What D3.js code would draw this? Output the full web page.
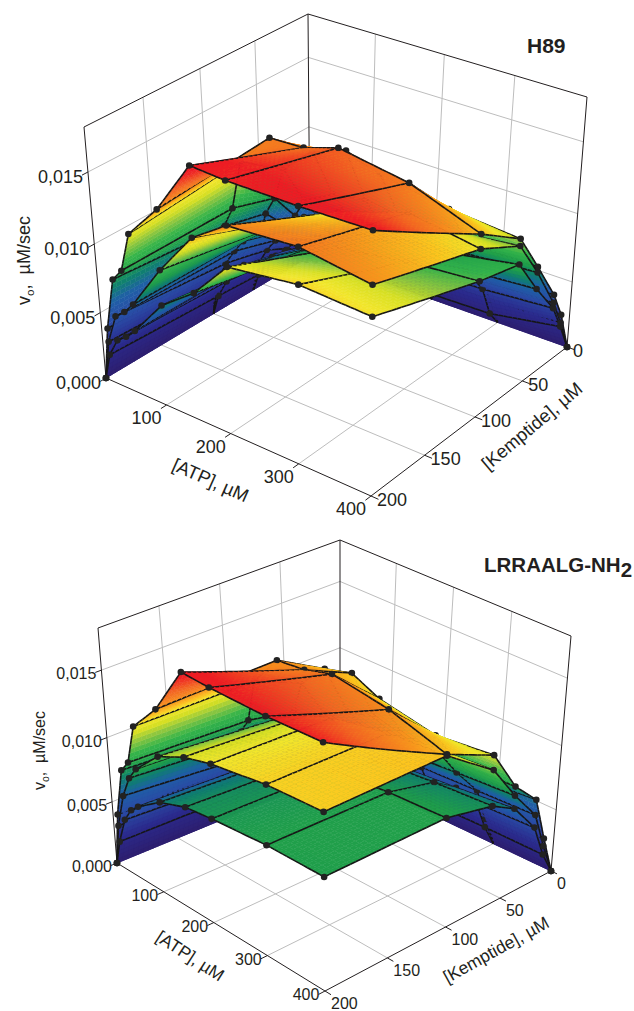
<!DOCTYPE html>
<html>
<head>
<meta charset="utf-8">
<script src="https://cdn.jsdelivr.net/npm/d3@7"></script>
<style>
html, body { margin: 0; padding: 0; background: #fff; }
text { font-family: "Liberation Sans", Arial, sans-serif; fill: #231f20; }
</style>
</head>
<body>
<svg id="chart" width="634" height="1011"></svg>
<script>
// grid of the measurements, rows below run along these two lists
const atpLevels = [400, 300, 200, 150, 100, 55, 40, 25, 10, 0];
const kemptideLevels = [200, 100, 60, 40, 20, 10, 0];

const atpTicks = [100, 200, 300, 400];
const kemptideTicks = [0, 50, 100, 150, 200];
const rateTicks = [0, 0.005, 0.010, 0.015];
const rateMax = 0.018;

// H89 panel, v0 in uM/sec, one row per kemptide level
const h89Low = [
    [.01213, .01245, .01188, .0092, .0074, .00468, .00396, .0034, .0020, 0],
    [.0098, .0094, .0086, .0076, .0062, .0048, .0040, .0030, .0016, 0],
    [.0091, .0082, .0074, .0064, .0052, .0040, .0034, .0026, .0014, 0],
    [.0064, .0060, .0054, .0048, .0040, .0032, .0026, .0020, .0011, 0],
    [.0040, .0036, .0034, .0030, .0026, .0020, .0017, .0012, .0007, 0],
    [.0021, .0012, .0011, .0010, .0009, .0008, .0007, .0005, .0003, 0],
    [0, 0, 0, 0, 0, 0, 0, 0, 0, 0]
];
const h89Mid = [
    [.01415, .0149, .01464, .0130, .0099, .00664, .0058, .0052, .0030, 0],
    [.0120, .0128, .0112, .0100, .0084, .0066, .0056, .0044, .0026, 0],
    [.0104, .0098, .0090, .0082, .0070, .0056, .0046, .0036, .0022, 0],
    [.0076, .0072, .0066, .0060, .0052, .0042, .0036, .0028, .0016, 0],
    [.0044, .0042, .0040, .0036, .0032, .0028, .0024, .0018, .0010, 0],
    [.0024, .0023, .0022, .0020, .0018, .0016, .0014, .0010, .0006, 0],
    [0, 0, 0, 0, 0, 0, 0, 0, 0, 0]
];
const h89High = [
    [.0175, .01746, .01755, .01775, .01408, .01165, .0088, .0079, .0040, 0],
    [.0130, .0148, .0156, .01485, .01476, .0124, .0088, .0072, .0040, 0],
    [.0109, .0113, .0122, .0130, .0122, .0102, .0078, .0064, .0036, 0],
    [.0080, .0080, .0083, .0086, .0082, .0070, .0056, .0046, .0026, 0],
    [.0050, .0050, .0052, .0054, .0052, .0044, .0036, .0030, .0018, 0],
    [.0030, .0029, .0030, .0030, .0028, .0024, .0020, .0016, .0010, 0],
    [0, 0, 0, 0, 0, 0, 0, 0, 0, 0]
];

// LRRAALG-NH2 panel
const lrrLow = [
    [.0082, .00824, .0080, .0078, .0071, .0058, .0052, .0041, .0020, 0],
    [.0084, .0082, .0078, .0074, .0066, .0054, .0048, .0036, .0019, 0],
    [.0077, .0074, .0070, .0064, .0056, .0046, .0040, .0030, .0016, 0],
    [.0067, .0062, .0058, .0052, .0046, .0038, .0032, .0024, .0013, 0],
    [.0044, .0042, .0040, .0036, .0032, .0026, .0022, .0016, .0009, 0],
    [.0018, .0018, .0017, .0016, .0014, .0012, .0010, .0008, .0005, 0],
    [0, 0, 0, 0, 0, 0, 0, 0, 0, 0]
];
const lrrMid = [
    [.0126, .0125, .0120, .0115, .01055, .0087, .0077, .0060, .0033, 0],
    [.0129, .0126, .0118, .0110, .0098, .0082, .0070, .0052, .0030, 0],
    [.0104, .0100, .0094, .0088, .0080, .0068, .0058, .0044, .0026, 0],
    [.0077, .0074, .0070, .0066, .0060, .0050, .0044, .0034, .0020, 0],
    [.0054, .0052, .0050, .0046, .0042, .0036, .0030, .0024, .0014, 0],
    [.0025, .0025, .0024, .0022, .0020, .0018, .0016, .0012, .0008, 0],
    [0, 0, 0, 0, 0, 0, 0, 0, 0, 0]
];
const lrrHigh = [
    [.0171, .0171, .0173, .0175, .0140, .0119, .0089, .0080, .0042, 0],
    [.0130, .0143, .0150, .0144, .0142, .0118, .0085, .0074, .0042, 0],
    [.0115, .0110, .0118, .0128, .0122, .0103, .0078, .0066, .0038, 0],
    [.0084, .0082, .0085, .0088, .0082, .0072, .0058, .0048, .0028, 0],
    [.0066, .0062, .0062, .0062, .0058, .0050, .0040, .0034, .0020, 0],
    [.0031, .0030, .0031, .0032, .0030, .0026, .0022, .0018, .0011, 0],
    [0, 0, 0, 0, 0, 0, 0, 0, 0, 0]
];

const colorStops = [0, .0025, .0045, .006, .0072, .0082, .0095, .0105, .0113, .012, .0128, .014, .0155, .017];
const colorRange = ["#2d1e6e", "#2b2a8c", "#2a4ba5", "#1f5fa6", "#0f7f6f", "#1f9e4a", "#35b44a", "#8cc63f",
    "#d7df23", "#f2e62b", "#fcc41e", "#f7941d", "#f26522", "#ed1c24"];
const rateColor = d3.scaleLinear().domain(colorStops).range(colorRange).clamp(true);

const aScale = d3.scaleLinear().domain([0, 400]).range([0, 1]);
const kScale = d3.scaleLinear().domain([0, 200]).range([0, 1]);
const vScale = d3.scaleLinear().domain([0, rateMax]).range([0, 1]);

// distance from the back corner along the line of sight, a and k and t are 0..1
const heightDepth = 0.76;
const depthOf = (a, k, t) => a + k + heightDepth * t;

// maps the unit square on a four cornered shape, keeps the perspective of the box
function quadMap(p0, p1, p2, p3) {
    const dx1 = p1[0] - p2[0], dx2 = p3[0] - p2[0], sx = p0[0] - p1[0] + p2[0] - p3[0];
    const dy1 = p1[1] - p2[1], dy2 = p3[1] - p2[1], sy = p0[1] - p1[1] + p2[1] - p3[1];
    const det = dx1 * dy2 - dx2 * dy1;
    const g = (sx * dy2 - dx2 * sy) / det;
    const h = (dx1 * sy - sx * dy1) / det;
    const a = p1[0] - p0[0] + g * p1[0], b = p3[0] - p0[0] + h * p3[0];
    const d = p1[1] - p0[1] + g * p1[1], e = p3[1] - p0[1] + h * p3[1];
    return (u, v) => {
        const w = g * u + h * v + 1;
        return [(a * u + b * v + p0[0]) / w, (d * u + e * v + p0[1]) / w];
    };
}

function dist(p, q) {
    return Math.hypot(p[0] - q[0], p[1] - q[1]);
}

function circlePath(p, r) {
    return `M${p[0] - r},${p[1]}a${r},${r} 0 1,0 ${2 * r},0a${r},${r} 0 1,0 ${-2 * r},0Z`;
}

function drawPanel(cfg) {
    const svg = d3.select("#chart").append("g");
    const floorMap = quadMap(cfg.floor.back, cfg.floor.right, cfg.floor.front, cfg.floor.left);
    const topMap = quadMap(cfg.top.back, cfg.top.right, cfg.top.front, cfg.top.left);

    const project = (a, k, t) => {
        const s = t * cfg.depth / (1 - t + t * cfg.depth);
        const p0 = floorMap(a, k), p1 = topMap(a, k);
        return [p0[0] + (p1[0] - p0[0]) * s, p0[1] + (p1[1] - p0[1]) * s];
    };
    const line = d3.line();

    const seg = (pts, color, width) => svg.append("path")
        .attr("d", line(pts))
        .attr("fill", "none")
        .attr("stroke", color)
        .attr("stroke-width", width);

    // walls and floor
    const gridColor = "#bdbdbd";
    rateTicks.slice(1).forEach(v => {
        const t = vScale(v);
        seg([project(0, 1, t), project(0, 0, t), project(1, 0, t)], gridColor, 1);
    });
    atpTicks.slice(0, 3).forEach(d => {
        const a = aScale(d);
        seg([project(a, 0, 1), project(a, 0, 0), project(a, 1, 0)], gridColor, 1);
    });
    kemptideTicks.slice(1, 4).forEach(d => {
        const k = kScale(d);
        seg([project(0, k, 1), project(0, k, 0), project(1, k, 0)], gridColor, 1);
    });

    // frame
    const frameColor = "#231f20";
    seg([project(0, 1, 0), project(0, 1, 1), project(0, 0, 1), project(1, 0, 1), project(1, 0, 0)], frameColor, 1);
    seg([project(0, 0, 0), project(0, 0, 1)], frameColor, 1);
    seg([project(0, 1, 0), project(1, 1, 0), project(1, 0, 0)], frameColor, 1);

    // ticks and tick labels
    rateTicks.forEach(v => {
        const t = vScale(v), p = project(0, 1, t);
        seg([p, project(0, 1.025, t)], frameColor, 1);
        svg.append("text")
            .attr("x", p[0] + cfg.rateLabel[0])
            .attr("y", p[1] + cfg.rateLabel[1])
            .attr("text-anchor", "end")
            .attr("font-size", cfg.fontSize)
            .text(v.toFixed(3).replace(".", ","));
    });
    atpTicks.forEach(d => {
        const a = aScale(d), p = project(a, 1, 0);
        seg([p, project(a, 1.025, 0)], frameColor, 1);
        svg.append("text")
            .attr("x", p[0] + cfg.atpLabel[0])
            .attr("y", p[1] + cfg.atpLabel[1])
            .attr("text-anchor", "middle")
            .attr("font-size", cfg.fontSize)
            .text(d);
    });
    kemptideTicks.forEach(d => {
        const k = kScale(d), p = project(1, k, 0);
        seg([p, project(1.025, k, 0)], frameColor, 1);
        svg.append("text")
            .attr("x", p[0] + cfg.kemLabel[0])
            .attr("y", p[1] + cfg.kemLabel[1])
            .attr("text-anchor", "start")
            .attr("font-size", cfg.fontSize)
            .text(d);
    });

    // axis titles
    svg.append("text")
        .attr("transform", `translate(${cfg.atpTitle.x},${cfg.atpTitle.y}) rotate(${cfg.atpTitle.angle})`)
        .attr("text-anchor", "middle")
        .attr("font-size", cfg.titleSize)
        .text("[ATP], \u00b5M");
    svg.append("text")
        .attr("transform", `translate(${cfg.kemTitle.x},${cfg.kemTitle.y}) rotate(${cfg.kemTitle.angle})`)
        .attr("text-anchor", "middle")
        .attr("font-size", cfg.titleSize)
        .text("[Kemptide], \u00b5M");
    const rateTitle = svg.append("text")
        .attr("transform", `translate(${cfg.rateTitle.x},${cfg.rateTitle.y}) rotate(-90)`)
        .attr("font-size", cfg.fontSize);
    rateTitle.append("tspan").text("v");
    rateTitle.append("tspan").attr("dy", 4).attr("font-size", cfg.fontSize * 0.65).text("o");
    rateTitle.append("tspan").attr("dy", -4).text(",\u00a0\u00a0\u00b5M/sec");

    // panel name
    const name = svg.append("text")
        .attr("x", cfg.name.x)
        .attr("y", cfg.name.y)
        .attr("font-size", cfg.name.size)
        .attr("font-weight", "bold");
    name.append("tspan").text(cfg.name.label);
    if (cfg.name.sub) {
        name.append("tspan").attr("dy", 5).text(cfg.name.sub);
    }

    // the three surfaces overlap in depth, so all pieces go in one list and are painted back to front
    let items = [];
    cfg.surfaces.forEach(rows => {
        items = items.concat(surfaceItems(rows, project));
    });
    items.sort((p, q) => p.depth - q.depth);

    svg.append("g").selectAll("path")
        .data(items)
        .enter()
        .append("path")
        .attr("d", d => d.path)
        .attr("fill", d => d.fill)
        .attr("stroke", d => d.stroke)
        .attr("stroke-width", d => d.width);
}

function surfaceItems(rows, project) {
    const line = d3.line();
    const items = [];
    const nRows = kemptideLevels.length, nCols = atpLevels.length;
    const lineBias = 0.03;

    for (let r = 0; r < nRows - 1; r++) {
        for (let c = 0; c < nCols - 1; c++) {
            const a0 = aScale(atpLevels[c + 1]), a1 = aScale(atpLevels[c]);
            const k0 = kScale(kemptideLevels[r + 1]), k1 = kScale(kemptideLevels[r]);
            const v00 = rows[r + 1][c + 1], v10 = rows[r + 1][c];
            const v01 = rows[r][c + 1], v11 = rows[r][c];

            const node = (u, w) => {
                const v = v00 * (1 - u) * (1 - w) + v10 * u * (1 - w) + v01 * (1 - u) * w + v11 * u * w;
                const a = a0 + (a1 - a0) * u, k = k0 + (k1 - k0) * w, t = vScale(v);
                return { p: project(a, k, t), v: v, depth: depthOf(a, k, t) };
            };

            // cut the patch in small cells so the colour follows the height
            const c00 = node(0, 0).p, c10 = node(1, 0).p, c11 = node(1, 1).p, c01 = node(0, 1).p;
            const nu = Math.min(24, Math.ceil(Math.max(dist(c00, c10), dist(c01, c11)) / 5));
            const nw = Math.min(24, Math.ceil(Math.max(dist(c00, c01), dist(c10, c11)) / 5));
            for (let i = 0; i < nu; i++) {
                for (let j = 0; j < nw; j++) {
                    const mid = node((i + 0.5) / nu, (j + 0.5) / nw);
                    const color = rateColor(mid.v);
                    items.push({
                        path: line([node(i / nu, j / nw).p, node((i + 1) / nu, j / nw).p,
                            node((i + 1) / nu, (j + 1) / nw).p, node(i / nu, (j + 1) / nw).p]) + "Z",
                        fill: color, stroke: color, width: 0.5, depth: mid.depth
                    });
                }
            }

            // black grid lines, cut up as well, none on the floor
            if (v01 + v11 > 0) {
                for (let i = 0; i < nu; i++) {
                    const p = node(i / nu, 1), q = node((i + 1) / nu, 1);
                    items.push({ path: line([p.p, q.p]), fill: "none", stroke: "#161616", width: 1.6, depth: (p.depth + q.depth) / 2 + lineBias });
                }
            }
            if (v10 + v11 > 0) {
                for (let j = 0; j < nw; j++) {
                    const p = node(1, j / nw), q = node(1, (j + 1) / nw);
                    items.push({ path: line([p.p, q.p]), fill: "none", stroke: "#161616", width: 1.6, depth: (p.depth + q.depth) / 2 + lineBias });
                }
            }
        }
    }

    rows.forEach((row, r) => row.forEach((v, c) => {
        const edgeCorner = (r == 0 && c == nCols - 1) || (r == nRows - 1 && c == 0);
        if (v > 0 || edgeCorner) {
            const a = aScale(atpLevels[c]), k = kScale(kemptideLevels[r]), t = vScale(v);
            items.push({
                path: circlePath(project(a, k, t), 3.3),
                fill: "#222", stroke: "none", width: 0, depth: depthOf(a, k, t) + 0.05
            });
        }
    }));
    return items;
}

drawPanel({
    floor: { back: [310, 256], right: [567, 347], front: [371, 496], left: [106, 378] },
    top: { back: [308, 14], right: [587, 97], front: [373, 222], left: [84, 127] },
    depth: 0.915,
    fontSize: 18,
    titleSize: 18.5,
    rateLabel: [-5, 11],
    atpLabel: [-20, 19],
    kemLabel: [6, 10],
    atpTitle: { x: 208, y: 486, angle: 24 },
    kemTitle: { x: 536, y: 431, angle: -40 },
    rateTitle: { x: 30, y: 305 },
    name: { x: 527, y: 53, size: 21, label: "H89" },
    surfaces: [h89Low, h89Mid, h89High]
});

drawPanel({
    floor: { back: [340, 771], right: [551, 871], front: [325, 991], left: [117, 863] },
    top: { back: [340, 540], right: [571, 636], front: [323, 728], left: [98, 628] },
    depth: 0.915,
    fontSize: 16,
    titleSize: 17.5,
    rateLabel: [-5, 9],
    atpLabel: [-19, 9],
    kemLabel: [6, 18],
    atpTitle: { x: 187, y: 961, angle: 33 },
    kemTitle: { x: 499, y: 955, angle: -29 },
    rateTitle: { x: 45, y: 790 },
    name: { x: 484, y: 572, size: 20.5, label: "LRRAALG-NH", sub: "2" },
    surfaces: [lrrLow, lrrMid, lrrHigh]
});
</script>
</body>
</html>
